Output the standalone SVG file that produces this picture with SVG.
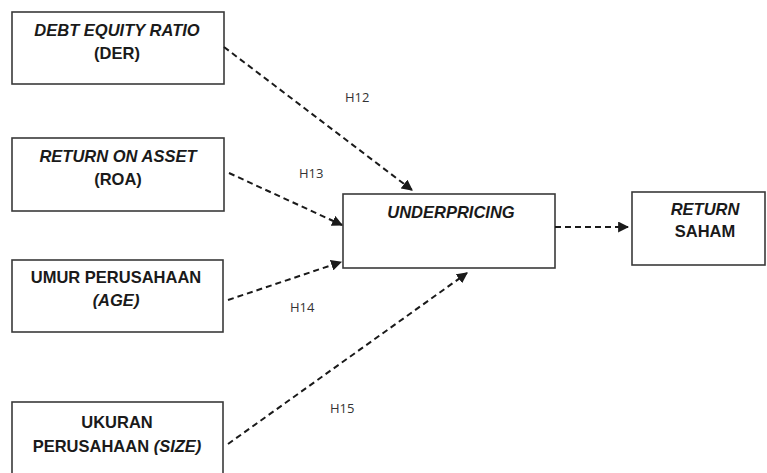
<svg xmlns="http://www.w3.org/2000/svg" width="767" height="473" viewBox="0 0 767 473">
<style>
.box{fill:#fff;stroke:#3a3a3a;stroke-width:1.6}
.t{font-family:"Liberation Sans",Arial,sans-serif;font-weight:bold;font-size:16.5px;fill:#1a1a1a;text-anchor:middle}
.i{font-style:italic}
.c{fill:none;stroke:#1a1a1a;stroke-width:2;stroke-dasharray:6 4}
.h{font-family:"Open Sans","Liberation Sans",sans-serif;font-size:13px;fill:#333}
</style>
<defs>
<marker id="ah" viewBox="0 0 10 10" refX="9" refY="5" markerWidth="5.5" markerHeight="5.5" orient="auto" markerUnits="strokeWidth">
<path d="M0,0 L10,5 L0,10 z" fill="#1a1a1a"/>
</marker>
</defs>
<rect width="767" height="473" fill="#fff"/>
<g id="der">
<rect class="box" x="12" y="12" width="212" height="72"/>
<text class="t i" x="117" y="36">DEBT EQUITY RATIO</text>
<text class="t" x="117" y="59">(DER)</text>
</g>
<g id="roa">
<rect class="box" x="12" y="138" width="212" height="73"/>
<text class="t i" x="118" y="162">RETURN ON ASSET</text>
<text class="t" x="118" y="185">(ROA)</text>
</g>
<g id="age">
<rect class="box" x="12" y="260" width="211" height="72"/>
<text class="t" x="116" y="283">UMUR PERUSAHAAN</text>
<text class="t i" x="116" y="306">(AGE)</text>
</g>
<g id="size">
<rect class="box" x="12" y="402" width="211" height="80"/>
<text class="t" x="117" y="428">UKURAN</text>
<text class="t" x="117" y="452">PERUSAHAAN <tspan class="i">(SIZE)</tspan></text>
</g>
<g id="underpricing">
<rect class="box" x="343" y="194" width="212" height="74"/>
<text class="t i" x="451" y="218">UNDERPRICING</text>
</g>
<g id="return">
<rect class="box" x="632" y="192" width="133" height="73"/>
<text class="t i" x="705" y="215">RETURN</text>
<text class="t" x="705" y="237">SAHAM</text>
</g>
<g id="connectors">
<line class="c" x1="224" y1="47" x2="412" y2="190" marker-end="url(#ah)"/>
<line class="c" x1="229" y1="173" x2="342" y2="225" marker-end="url(#ah)"/>
<line class="c" x1="228" y1="300" x2="341" y2="262" marker-end="url(#ah)"/>
<line class="c" x1="228" y1="444" x2="467" y2="273" marker-end="url(#ah)"/>
<line class="c" x1="555" y1="227" x2="628" y2="227" marker-end="url(#ah)"/>
<text class="h" x="345" y="102">H12</text>
<text class="h" x="299" y="178">H13</text>
<text class="h" x="290" y="312">H14</text>
<text class="h" x="330" y="413">H15</text>
</g>
</svg>
